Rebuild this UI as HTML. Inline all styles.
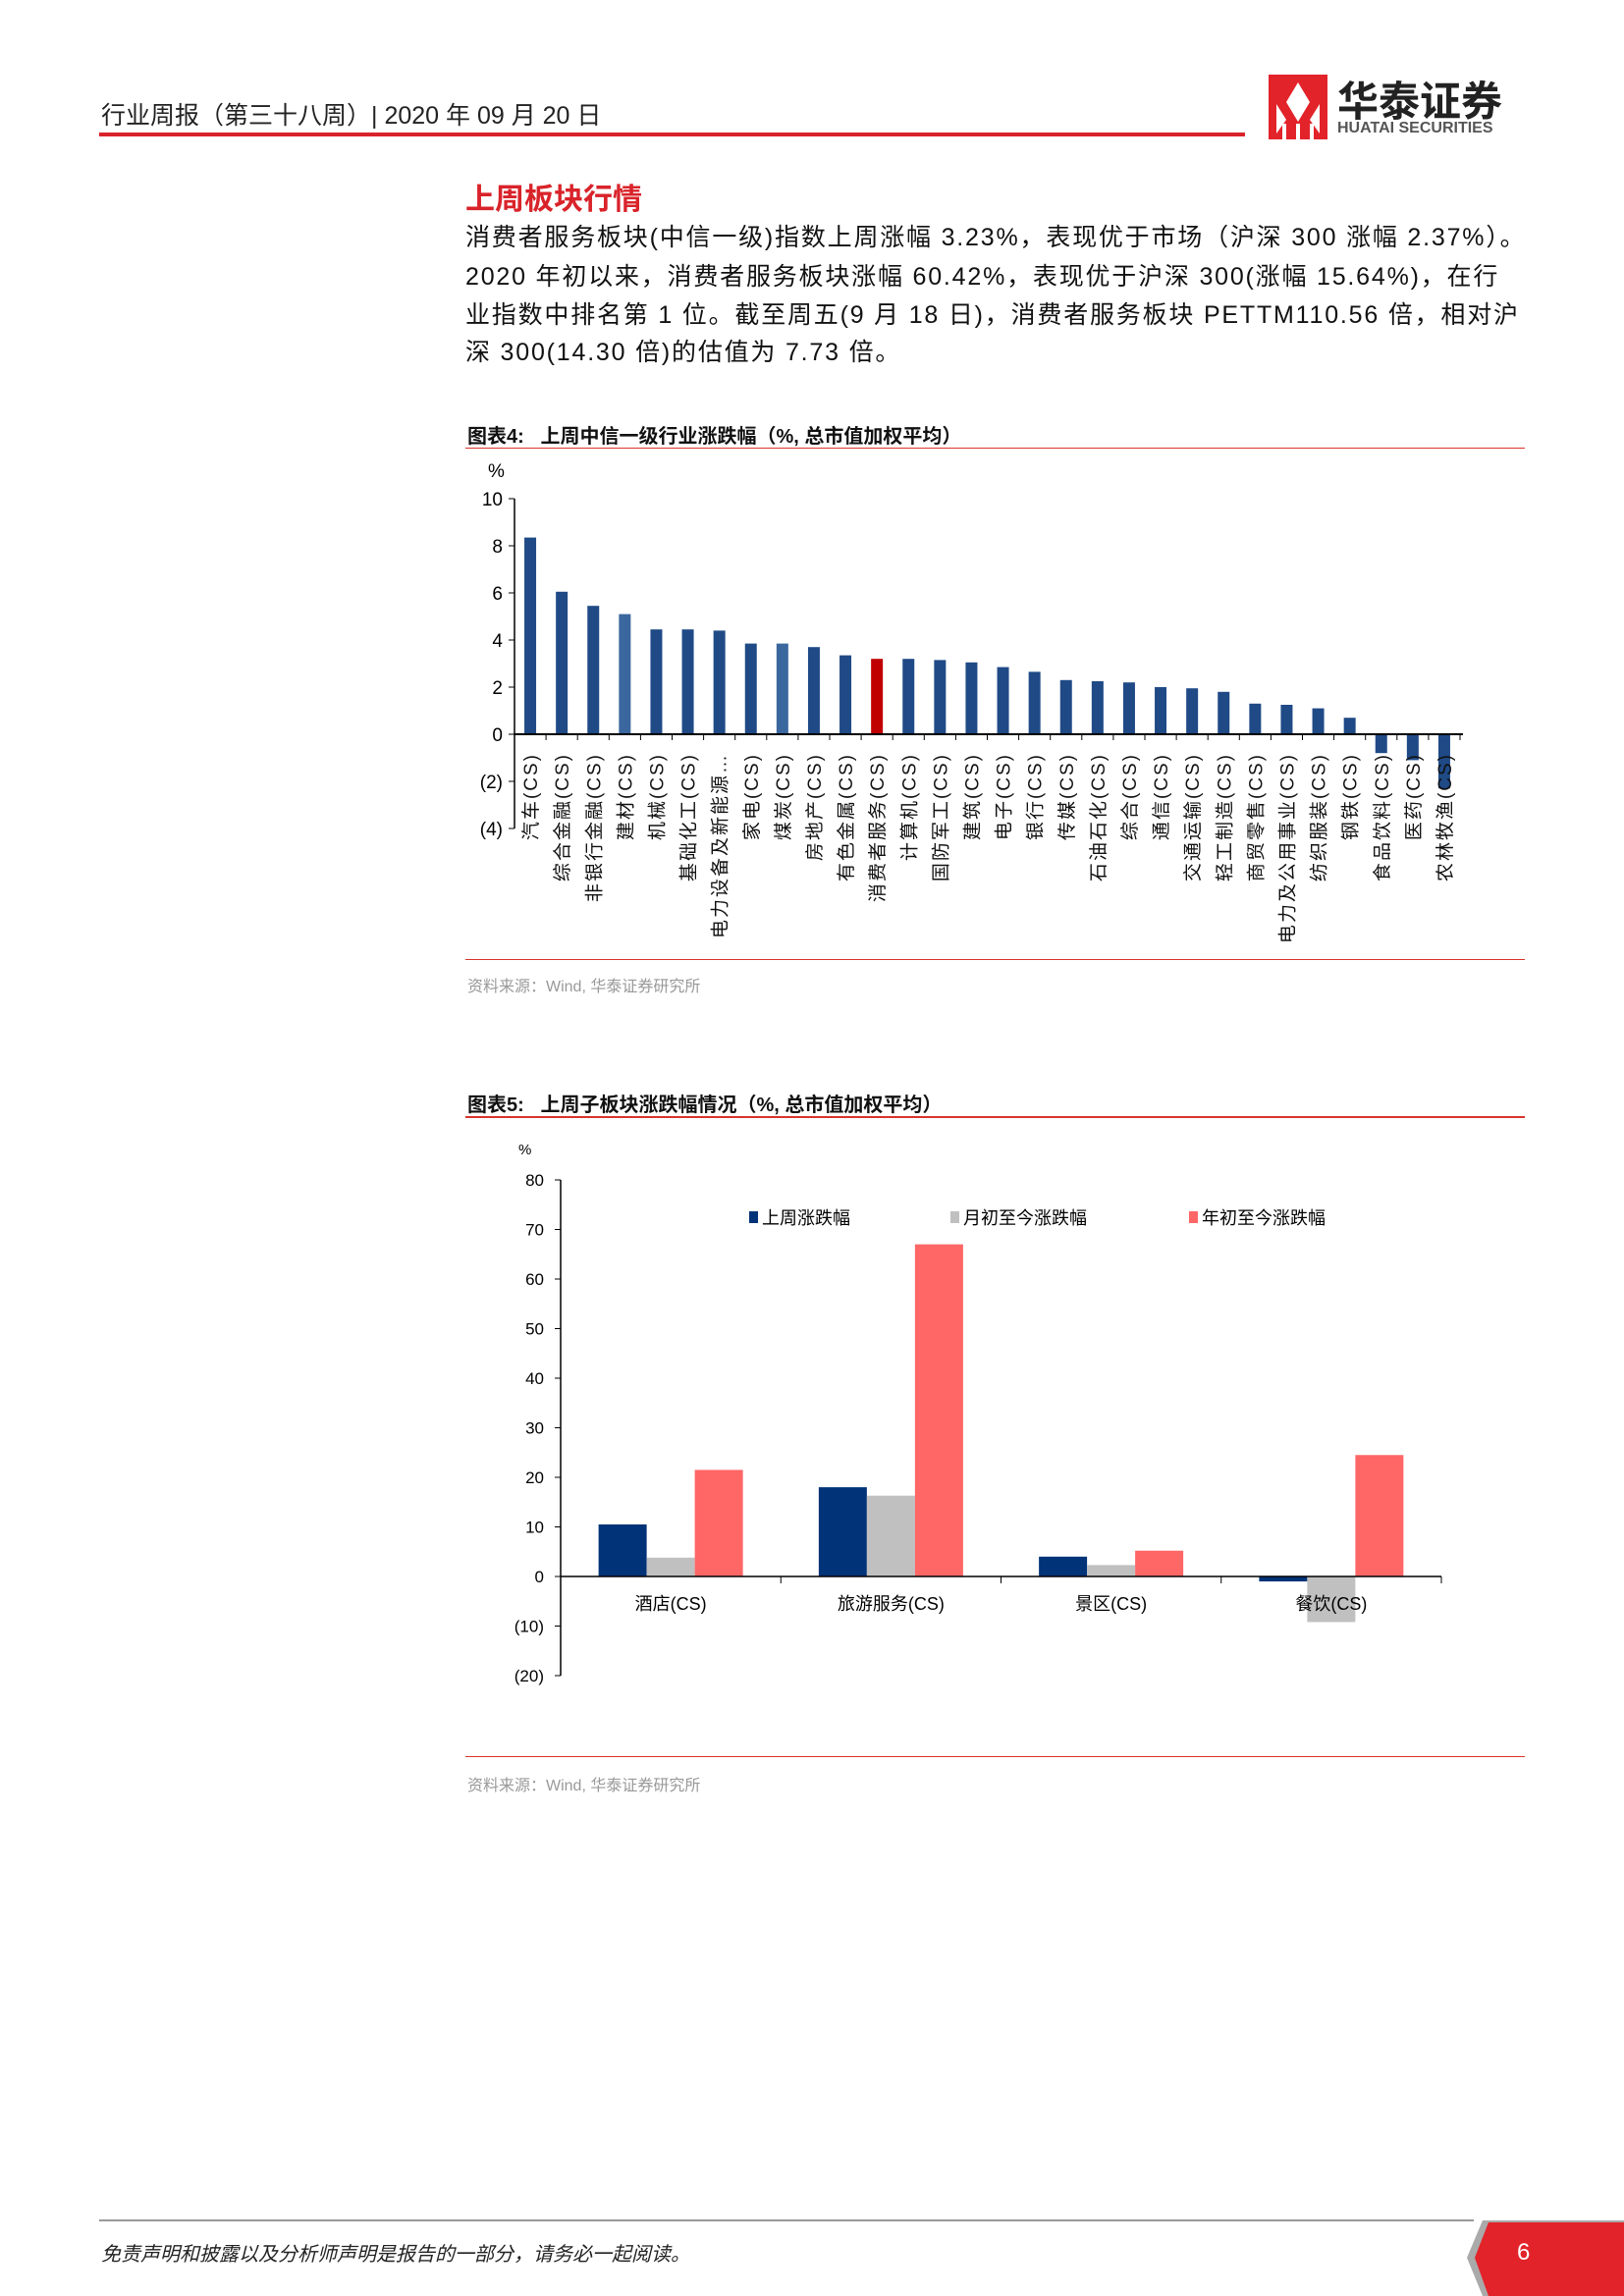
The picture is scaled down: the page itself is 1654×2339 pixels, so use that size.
<!DOCTYPE html>
<html><head><meta charset="utf-8">
<style>
body{margin:0;width:1654px;height:2339px;position:relative;background:#fff;font-family:"Liberation Sans","Noto Sans CJK SC",sans-serif;overflow:hidden}
.a{position:absolute;white-space:nowrap}
.body{font-size:25px;color:#111;left:474px;width:1080px;letter-spacing:1.8px}
.ct{font-size:20px;font-weight:bold;color:#111;left:476px}
.line{position:absolute;left:474px;width:1079px;height:2px;background:#d9342b}
.src{font-size:16px;color:#999;left:476px}
</style></head><body>
<div class="a" style="left:103px;top:98px;font-size:25px;color:#222">行业周报（第三十八周）| 2020 年 09 月 20 日</div>
<div style="position:absolute;left:101px;top:135px;width:1167px;height:4px;background:#d9232a"></div>
<div style="position:absolute;left:1292px;top:76px;width:255px;height:66px">
 <svg width="60" height="66" style="position:absolute;left:0;top:0"><rect x="0" y="0" width="60" height="66" fill="#e3232a"/><path d="M30 8 L18 28 L30 48 L42 28Z M8 30 L18 46 L8 60Z M52 30 L42 46 L52 60Z" fill="#fff"/><rect x="14" y="50" width="4" height="16" fill="#fff"/><rect x="28" y="50" width="4" height="16" fill="#fff"/><rect x="42" y="50" width="4" height="16" fill="#fff"/></svg>
 <div class="a" style="left:70px;top:-6px;font-size:42px;font-weight:bold;color:#222">华泰证券</div>
 <div class="a" style="left:70px;top:46px;font-size:16px;font-weight:bold;color:#555">HUATAI SECURITIES</div>
</div>
<div class="a" style="left:474px;top:178px;font-size:30px;font-weight:bold;color:#d9232a">上周板块行情</div>
<div class="a body" style="top:222px">消费者服务板块(中信一级)指数上周涨幅 3.23%，表现优于市场（沪深 300 涨幅 2.37%）。</div>
<div class="a body" style="top:262px">2020 年初以来，消费者服务板块涨幅 60.42%，表现优于沪深 300(涨幅 15.64%)，在行</div>
<div class="a body" style="top:301px">业指数中排名第 1 位。截至周五(9 月 18 日)，消费者服务板块 PETTM110.56 倍，相对沪</div>
<div class="a body" style="top:339px">深 300(14.30 倍)的估值为 7.73 倍。</div>

<div class="a ct" style="top:428px">图表4:&nbsp;&nbsp; 上周中信一级行业涨跌幅（%, 总市值加权平均）</div>
<div class="line" style="top:456px;height:1px"></div>
<svg id="c4" style="position:absolute;left:0;top:0" width="1654" height="1000"></svg>
<div class="line" style="top:977px;height:1px"></div>
<div class="a src" style="top:991px">资料来源：Wind, 华泰证券研究所</div>

<div class="a ct" style="top:1109px">图表5:&nbsp;&nbsp; 上周子板块涨跌幅情况（%, 总市值加权平均）</div>
<div class="line" style="top:1137px"></div>
<svg id="c5" style="position:absolute;left:0;top:0" width="1654" height="1800"></svg>
<div class="line" style="top:1789px;height:1px"></div>
<div class="a src" style="top:1805px">资料来源：Wind, 华泰证券研究所</div>

<div style="position:absolute;left:101px;top:2261px;width:1400px;height:2px;background:#999"></div>
<div class="a" style="left:103px;top:2280px;font-size:20px;font-style:italic;color:#222">免责声明和披露以及分析师声明是报告的一部分，请务必一起阅读。</div>
<svg style="position:absolute;left:1480px;top:2258px" width="174" height="81"><path d="M30 4 L174 4 L174 81 L30 81 L14 42Z" fill="#aaa"/><path d="M36 6 L174 6 L174 81 L36 81 L22 42Z" fill="#e3232a"/><text x="65" y="44" fill="#fff" font-size="24" font-family="Liberation Sans">6</text></svg>

<script>
const cats4=["汽车(CS)","综合金融(CS)","非银行金融(CS)","建材(CS)","机械(CS)","基础化工(CS)","电力设备及新能源…","家电(CS)","煤炭(CS)","房地产(CS)","有色金属(CS)","消费者服务(CS)","计算机(CS)","国防军工(CS)","建筑(CS)","电子(CS)","银行(CS)","传媒(CS)","石油石化(CS)","综合(CS)","通信(CS)","交通运输(CS)","轻工制造(CS)","商贸零售(CS)","电力及公用事业(CS)","纺织服装(CS)","钢铁(CS)","食品饮料(CS)","医药(CS)","农林牧渔(CS)"];
const vals4=[8.35,6.05,5.45,5.1,4.45,4.45,4.4,3.85,3.85,3.7,3.35,3.2,3.2,3.15,3.05,2.85,2.65,2.3,2.25,2.2,2.0,1.95,1.8,1.3,1.25,1.1,0.7,-0.8,-1.1,-2.3];
const ticks4=[10,8,6,4,2,0,-2,-4];
const tickLabels4=["10","8","6","4","2","0","(2)","(4)"];
const cats5=["酒店(CS)","旅游服务(CS)","景区(CS)","餐饮(CS)"];
const week5=[10.5,18,4,-1];
const month5=[3.8,16.3,2.3,-9.2];
const ytd5=[21.5,67,5.2,24.5];
const seriesNames5=["上周涨跌幅","月初至今涨跌幅","年初至今涨跌幅"];
const ticks5=[80,70,60,50,40,30,20,10,0,-10,-20];
const tickLabels5=["80","70","60","50","40","30","20","10","0","(10)","(20)"];
const NS="http://www.w3.org/2000/svg";
function mk(p,t,a){const e=document.createElementNS(NS,t);for(const k in a)e.setAttribute(k,a[k]);p.appendChild(e);return e;}
(function(){
const s=document.getElementById('c4');
const x0=524,x1=1487,y=v=>748-v*24,bw=(x1-x0)/cats4.length;
let t=mk(s,'text',{x:497,y:486,'font-size':19,'font-family':'Liberation Sans'});t.textContent='%';


mk(s,'line',{x1:x0,y1:y(10),x2:x0,y2:y(-4),stroke:'#000','stroke-width':1.5});
ticks4.forEach((v,i)=>{mk(s,'line',{x1:x0-6,y1:y(v),x2:x0,y2:y(v),stroke:'#000'});
 const l=mk(s,'text',{x:512,y:y(v)+7,'text-anchor':'end','font-size':19,'font-family':'Liberation Sans'});l.textContent=tickLabels4[i];
 
 });
vals4.forEach((v,i)=>{const cx=x0+bw*(i+.5);
 const col=cats4[i].startsWith('消费者')?'#c00000':(i==3||i==8?'#3b679f':'#1f4a86');
 const r=mk(s,'rect',{x:cx-6,y:Math.min(y(v),y(0)),width:12,height:Math.abs(y(v)-y(0)),fill:col});
 
 
 const l=mk(s,'text',{transform:`translate(${cx+7},767) rotate(-90)`,'text-anchor':'end','font-size':19,'letter-spacing':2,'font-family':'Liberation Sans, Noto Sans CJK SC, sans-serif',fill:'#111'});
 l.textContent=cats4[i];
 
 });
mk(s,'line',{x1:x0,y1:y(0),x2:x1+3,y2:y(0),stroke:'#000','stroke-width':2});
for(let i=0;i<=cats4.length;i++)mk(s,'line',{x1:x0+bw*i,y1:y(0),x2:x0+bw*i,y2:y(0)+6,stroke:'#000'});
})();
(function(){
const s=document.getElementById('c5');
const x0=571,x1=1468,y=v=>1606-v*5.05,gw=(x1-x0)/cats5.length,bw=49;
let t=mk(s,'text',{x:528,y:1176,'font-size':15,'font-family':'Liberation Sans'});t.textContent='%';


mk(s,'line',{x1:x0,y1:y(80),x2:x0,y2:y(-20),stroke:'#000','stroke-width':1.5});
ticks5.forEach((v,i)=>{mk(s,'line',{x1:x0-6,y1:y(v),x2:x0,y2:y(v),stroke:'#000'});
 const l=mk(s,'text',{x:554,y:y(v)+6,'text-anchor':'end','font-size':17,'font-family':'Liberation Sans'});l.textContent=tickLabels5[i];
 
 });
const cols=['#003378','#c0c0c0','#ff6666'],series=[week5,month5,ytd5];
cats5.forEach((c,i)=>{const cx=x0+gw*(i+.5);
 series.forEach((sv,j)=>{const v=sv[i];
  const r=mk(s,'rect',{x:cx-1.5*bw+j*bw,y:Math.min(y(v),y(0)),width:bw,height:Math.abs(y(v)-y(0)),fill:cols[j]});
  
  });
 const l=mk(s,'text',{x:cx,y:1640,'text-anchor':'middle','font-size':18,'font-family':'Liberation Sans, Noto Sans CJK SC, sans-serif'});l.textContent=c;
 
 });
mk(s,'line',{x1:x0,y1:y(0),x2:x1,y2:y(0),stroke:'#000','stroke-width':1.5});
for(let i=1;i<=cats5.length;i++)mk(s,'line',{x1:x0+gw*i,y1:y(0),x2:x0+gw*i,y2:y(0)+7,stroke:'#000'});
const lx=[763,968,1211];
seriesNames5.forEach((n,j)=>{mk(s,'rect',{x:lx[j],y:1234,width:9,height:12,fill:cols[j]});
 const l=mk(s,'text',{x:lx[j]+13,y:1247,'font-size':18,'font-family':'Liberation Sans, Noto Sans CJK SC, sans-serif'});l.textContent=n;
 
 });
})();
</script>
</body></html>
